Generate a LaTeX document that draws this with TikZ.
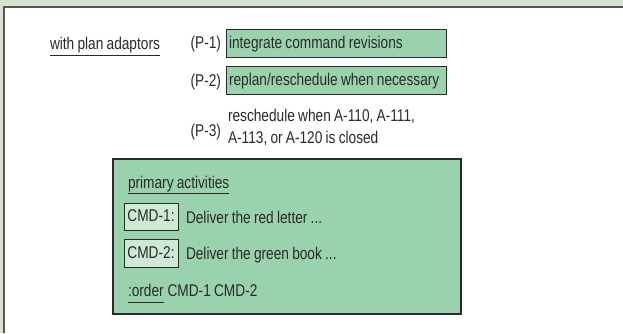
\documentclass[tikz,border=0pt]{standalone}
\usepackage{fontspec}
\setmainfont[FakeStretch=0.805,WordSpace=0.85]{Liberation Sans}
\usetikzlibrary{calc}
\definecolor{bgout}{HTML}{D5E3CE}
\definecolor{boxgreen}{HTML}{9AD2AE}
\definecolor{cmdfill}{HTML}{CFE9D7}
\definecolor{txt}{HTML}{2A2A2A}
\definecolor{framec}{HTML}{555555}
\newcommand\mainfs{\fontsize{17}{20}\selectfont}
\newcommand\boxtxt[1]{\makebox[214pt][l]{#1}}
\begin{document}
\begin{tikzpicture}[x=1pt,y=-1pt,
  every node/.style={inner sep=0pt, outer sep=0pt, text=txt, font=\mainfs},
  pbox/.style={draw=txt, line width=1pt, fill=boxgreen, anchor=north west,
    minimum height=28pt, minimum width=220pt,
    text height=12pt, text depth=2pt},
  cmdbox/.style={draw=txt, line width=1pt, fill=cmdfill, anchor=north west,
    minimum width=54pt, minimum height=27pt, text height=12pt, text depth=2pt},
  bigbox/.style={draw=txt, line width=1.2pt, fill=boxgreen, anchor=north west},
  uline/.style={draw=txt, line width=0.9pt},
  lbl/.style={anchor=base west},
  plbl/.style={anchor=base east}]
\useasboundingbox (0,0) rectangle (623,333);
\fill[bgout] (0,0) rectangle (623,333);
\fill[white] (4,7) rectangle (623,333);
\draw[framec, line width=1.6pt] (4,333) -- (4,7) -- (623,7);

\node[lbl] (wpa) at (50,49) {with plan adaptors};
\draw[uline] ($(wpa.base west)+(0,6)$) -- ($(wpa.base east)+(0,6)$);

\node[plbl] (p1l) at (221,48) {(P-1)};
\node[pbox] (p1) at (226,29) {\boxtxt{integrate command revisions}};

\node[plbl] (p2l) at (221,86) {(P-2)};
\node[pbox] (p2) at (226,66) {\boxtxt{replan/reschedule when necessary}};

\node[plbl] (p3l) at (221,136) {(P-3)};
\node[lbl] (p3a) at (228,121) {reschedule when A-110, A-111,};
\node[lbl] (p3b) at (228,143) {A-113, or A-120 is closed};

\node[bigbox, minimum width=348pt, minimum height=155pt] (prim) at (113,159) {};

\node[lbl] (pa) at (128,188) {primary activities};
\draw[uline] ($(pa.base west)+(0,5)$) -- ($(pa.base east)+(0,5)$);

\node[cmdbox] (c1) at (124,203) {CMD-1:};
\node[lbl] (c1t) at (186,223) {Deliver the red letter ...};

\node[cmdbox, minimum height=28pt] (c2) at (124,239) {CMD-2:};
\node[lbl] (c2t) at (186,259) {Deliver the green book ...};

\node[lbl] (ord) at (128,296) {:order};
\draw[uline] ($(ord.base west)+(0,6)$) -- ($(ord.base east)+(0,6)$);
\node[lbl] (ordc) at ($(ord.base east)+(3.8,0)$) {CMD-1 CMD-2};
\end{tikzpicture}
\end{document}
